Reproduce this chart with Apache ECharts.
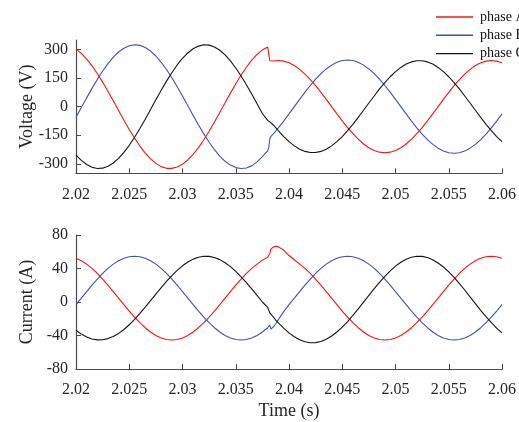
<!DOCTYPE html>
<html>
<head>
<meta charset="utf-8">
<script src="https://cdn.jsdelivr.net/npm/echarts@6/dist/echarts.min.js"></script>
<style>
html,body{margin:0;padding:0;background:#fff;}
#chart{width:519px;height:422px;}
</style>
</head>
<body>
<div id="chart"></div>
<script>
// time samples (s)
const time = [2.020,2.0205,2.021,2.0215,2.022,2.0225,2.023,2.0235,2.024,2.0245,2.025,2.0255,2.026,2.0265,2.027,2.0275,2.028,2.0285,2.029,2.0295,
  2.030,2.0305,2.031,2.0315,2.032,2.0325,2.033,2.0335,2.034,2.0345,2.035,2.0355,2.036,2.0365,2.037,
  2.0375,2.038,2.0381,2.0382,2.0383,2.0385,2.03875,2.039,2.0395,
  2.040,2.0405,2.041,2.0415,2.042,2.0425,2.043,2.0435,2.044,2.0445,2.045,2.0455,2.046,2.0465,2.047,2.0475,2.048,2.0485,2.049,2.0495,
  2.050,2.0505,2.051,2.0515,2.052,2.0525,2.053,2.0535,2.054,2.0545,2.055,2.0555,2.056,2.0565,2.057,2.0575,2.058,2.0585,2.059,2.0595,2.060];

// voltages (V)
const voltageA = [302,280,250,215,174,129,81,31,-20,-71,-120,-165,-207,-244,-274,-298,-315,-324,-324,-317,
  -302,-280,-250,-215,-174,-129,-81,-31,20,71,120,165,207,244,274,
  298,313,315,241,240,240,241,242,239,
  230,216,196,171,142,110,75,38,0,-38,-75,-110,-142,-171,-196,-216,-230,-239,-242,-239,
  -230,-216,-196,-171,-142,-110,-75,-38,0,38,75,110,142,171,196,216,230,239,242,239,230];
const voltageB = [-56,-5,46,96,143,187,226,260,287,307,320,325,322,311,292,266,233,195,152,105,
  56,5,-46,-96,-143,-187,-226,-260,-287,-307,-320,-325,-322,-311,-290,
  -262,-232,-214,-170,-156,-144,-128,-111,-76,
  -38,0,38,76,111,144,173,198,218,233,242,245,242,233,218,198,173,144,111,76,
  38,0,-38,-76,-111,-144,-173,-198,-218,-233,-242,-245,-242,-233,-218,-198,-173,-144,-111,-76,-38];
const voltageC = [-254,-282,-304,-318,-325,-323,-313,-296,-272,-240,-203,-161,-115,-66,-15,36,86,134,178,219,
  254,282,304,318,325,323,313,296,272,240,203,161,115,66,15,
  -36,-72,-80,-80,-88,-95,-110,-126,-157,
  -184,-206,-224,-235,-241,-241,-235,-224,-206,-184,-157,-126,-93,-56,-19,19,56,93,126,157,
  184,206,224,235,241,241,235,224,206,184,157,126,93,56,19,-19,-56,-93,-126,-157,-184];

// currents (A)
const currentA = [52.3,49.3,45.2,40.1,34.1,27.4,20.2,12.5,4.7,-3.1,-10.8,-18.0,-24.7,-30.7,-35.8,-39.9,-42.9,-44.7,-45.3,-44.7,
  -42.9,-39.9,-35.8,-30.7,-24.7,-18.0,-10.8,-3.1,4.7,12.5,20.2,27.4,34.1,40.1,45.2,
  50,53.5,54.5,58,63,65.5,66.5,65.8,62,
  55.5,50.5,45.2,40.1,34.1,27.4,20.2,12.5,4.7,-3.1,-10.8,-18.0,-24.7,-30.7,-35.8,-39.9,-42.9,-44.7,-45.3,-44.7,
  -42.9,-39.9,-35.8,-30.7,-24.7,-18.0,-10.8,-3.1,4.7,12.5,20.2,27.4,34.1,40.1,45.2,49.3,52.3,54.1,54.7,54.1,52.3];
const currentB = [-3.1,4.7,12.5,20.2,27.4,34.1,40.1,45.2,49.3,52.3,54.1,54.7,54.1,52.3,49.3,45.2,40.1,34.1,27.4,20.2,
  12.5,4.7,-3.1,-10.8,-18.0,-24.7,-30.7,-35.8,-39.9,-42.9,-44.7,-45.3,-44.7,-42.9,-39.9,
  -35.8,-30.7,-29,-27.5,-32.5,-30,-26,-21,-11.5,
  -3.1,4.7,12.5,20.2,27.4,34.1,40.1,45.2,49.3,52.3,54.1,54.7,54.1,52.3,49.3,45.2,40.1,34.1,27.4,20.2,
  12.5,4.7,-3.1,-10.8,-18.0,-24.7,-30.7,-35.8,-39.9,-42.9,-44.7,-45.3,-44.7,-42.9,-39.9,-35.8,-30.7,-24.7,-18.0,-10.8,-3.1];
const currentC = [-33.8,-38.3,-41.8,-44.1,-45.2,-45.1,-43.7,-41.2,-37.5,-32.8,-27.2,-20.8,-13.7,-6.2,1.6,9.4,17.1,24.6,31.5,37.8,
  43.2,47.7,51.2,53.5,54.6,54.5,53.1,50.6,46.9,42.2,36.6,30.1,23.1,15.6,7.8,
  0,-6.5,-7.5,-13,-15,-17.5,-21.5,-25,-31.2,
  -36.8,-41.5,-45.1,-47.5,-48.6,-48.5,-47.1,-44.5,-40.6,-35.8,-30.0,-23.3,-16.0,-8.3,-0.2,7.9,15.9,23.5,30.7,37.2,
  42.8,47.5,51.1,53.5,54.6,54.5,53.1,50.5,46.6,41.8,36.0,29.3,22.0,14.3,6.2,-1.9,-9.9,-17.5,-24.7,-31.2,-36.8];

const phaseNames = ['phase A','phase B','phase C'];
const phaseColors = ['#ff1010','#4152a8','#141414'];
const voltageTicks = [-300,-150,0,150,300];
const currentTicks = [-80,-40,0,40,80];

const FONT = 'Liberation Serif';
const TXT = '#262626';
const AX = '#4a4a4a';

function pairs(vals){ return time.map((t,i)=>[t, vals[i]]); }

function xAxis(gridIndex, withName){
  const ax = {
    type:'value', gridIndex, min:2.02, max:2.06, interval:0.005,
    axisLine:{show:true, onZero:false, lineStyle:{color:AX, width:1.2}},
    axisTick:{show:true, inside:true, length:5, lineStyle:{color:AX, width:1}},
    axisLabel:{color:TXT, fontFamily:FONT, fontSize:16, margin:13,
      formatter:v=>String(+v.toFixed(3))},
    splitLine:{show:false}
  };
  if(withName){
    ax.name='Time (s)'; ax.nameLocation='middle'; ax.nameGap=33;
    ax.nameMoveOverlap=false;
    ax.nameTextStyle={color:TXT, fontFamily:FONT, fontSize:18};
  }
  return ax;
}
function yAxis(gridIndex, name, lo, hi, ticks){
  return {
    type:'value', gridIndex, min:lo, max:hi,
    name, nameLocation:'middle', nameGap:40, nameMoveOverlap:false,
    nameTextStyle:{color:TXT, fontFamily:FONT, fontSize:18},
    axisLine:{show:true, onZero:false, lineStyle:{color:AX, width:1.2}},
    axisTick:{show:true, inside:true, length:5, lineStyle:{color:AX, width:1}, customValues:ticks},
    axisLabel:{color:TXT, fontFamily:FONT, fontSize:16, margin:8, customValues:ticks},
    splitLine:{show:false}
  };
}

const volt = [voltageA, voltageB, voltageC];
const curr = [currentA, currentB, currentC];
const series = [];
[volt, curr].forEach((set, g)=>{
  set.forEach((vals, k)=>{
    series.push({
      name: phaseNames[k], type:'line', xAxisIndex:g, yAxisIndex:g,
      data: pairs(vals), symbol:'none', showSymbol:false, smooth:false,
      lineStyle:{color:phaseColors[k], width:1.1},
      itemStyle:{color:phaseColors[k]},
      animation:false, z: 3
    });
  });
});

const chart = echarts.init(document.getElementById('chart'), null, {renderer:'canvas'});
chart.setOption({
  animation:false,
  backgroundColor:'#ffffff',
  grid:[
    {left:76, top:40, right:16.6, height:133.3, containLabel:false},
    {left:76, top:235, right:16.6, height:134, containLabel:false}
  ],
  legend:{
    data: phaseNames.map((n,k)=>({name:n, icon:'rect', itemStyle:{color:phaseColors[k]}})),
    orient:'vertical', left:436, top:10, padding:0,
    itemWidth:37, itemHeight:1.4, itemGap:4.3,
    textStyle:{color:'#111', fontFamily:FONT, fontSize:14, padding:[0,0,0,2], width:80, overflow:'none'},
    selectedMode:false
  },
  xAxis:[xAxis(0,false), xAxis(1,true)],
  yAxis:[yAxis(0,'Voltage (V)',-350,350,voltageTicks), yAxis(1,'Current (A)',-80,80,currentTicks)],
  series
});
</script>
</body>
</html>
